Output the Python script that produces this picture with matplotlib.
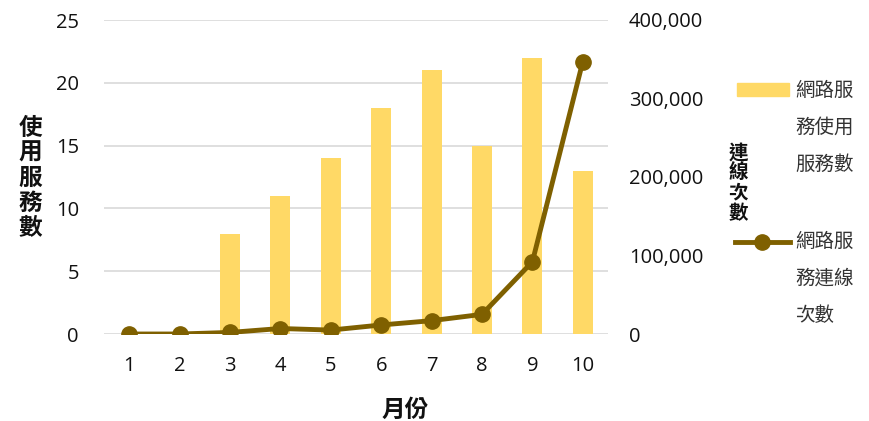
import matplotlib
matplotlib.use("Agg")
import matplotlib.pyplot as plt
from matplotlib.lines import Line2D
from matplotlib.patches import Rectangle
from matplotlib.ticker import FuncFormatter

plt.rcParams['font.family'] = ['Noto Sans CJK TC', 'DejaVu Sans']

# data
months = [1, 2, 3, 4, 5, 6, 7, 8, 9, 10]
services = [0, 0, 8, 11, 14, 18, 21, 15, 22, 13]
connections = [0, 0, 2000, 7000, 5000, 11500, 17000, 25000, 92000, 347000]
bar_label = "網路服\n務使用\n服務數"
line_label = "網路服\n務連線\n次數"

bar_col = '#FFD966'
line_col = '#7F6000'
txt_col = '#111111'

fig = plt.figure(figsize=(8.69, 4.21), dpi=100)
ax = fig.add_axes([104 / 869, 1 - 334 / 421, 504 / 869, 314 / 421])
ax2 = ax.twinx()

ax.bar(months, services, width=0.4, color=bar_col, zorder=2)
ax2.plot(months, connections, color=line_col, lw=3.5, marker='o', ms=11, zorder=3)

ax.set_xlim(0.5, 10.5)
ax.set_ylim(0, 25)
ax.set_yticks(range(0, 26, 5))
ax2.set_ylim(0, 400000)
ax2.set_yticks(range(0, 400001, 100000))
ax2.yaxis.set_major_formatter(FuncFormatter(lambda v, p: f"{int(v):,}"))
ax.set_xticks(months)

ax.yaxis.grid(True, color='#d9d9d9', lw=1.2, zorder=0)
ax.set_axisbelow(True)
for a in (ax, ax2):
    for s in a.spines.values():
        s.set_visible(False)
ax.tick_params(axis='x', length=0, pad=16, labelsize=14.5, labelcolor=txt_col)
ax.tick_params(axis='y', length=0, pad=18, labelsize=14.5, labelcolor=txt_col)
ax2.tick_params(axis='y', length=0, pad=15, labelsize=14.5, labelcolor=txt_col)
for lab in ax.get_xticklabels() + ax.get_yticklabels() + ax2.get_yticklabels():
    lab.set_family(['Open Sans', 'DejaVu Sans'])

# axis titles, stacked vertically like the original
fig.text(30 / 869, 1 - 178 / 421, "\n".join("使用服務數"), ha='center', va='center',
         fontsize=17, fontweight='bold', linespacing=1.05, color=txt_col)
fig.text(738 / 869, 1 - 183 / 421, "\n".join("連線次數"), ha='center', va='center',
         fontsize=14, fontweight='bold', linespacing=1.08, color=txt_col)
fig.text(405 / 869, 1 - 410 / 421, "月份", ha='center', va='center',
         fontsize=17, fontweight='bold', color=txt_col)

# legend
fig.add_artist(Rectangle((737 / 869, 1 - 96 / 421), 52 / 869, 13 / 421,
                         transform=fig.transFigure, color=bar_col))
fig.add_artist(Line2D([735 / 869, 790 / 869], [1 - 242 / 421] * 2, transform=fig.transFigure,
                      color=line_col, lw=3.5))
fig.add_artist(Line2D([762 / 869], [1 - 242 / 421], transform=fig.transFigure,
                      color=line_col, marker='o', ms=11))
fig.text(795 / 869, 1 - 80 / 421, bar_label, ha='left', va='top', fontsize=14,
         linespacing=2.0, color='#333333')
fig.text(795 / 869, 1 - 231 / 421, line_label, ha='left', va='top', fontsize=14,
         linespacing=2.0, color='#333333')

fig.savefig("out.png", dpi=100)
